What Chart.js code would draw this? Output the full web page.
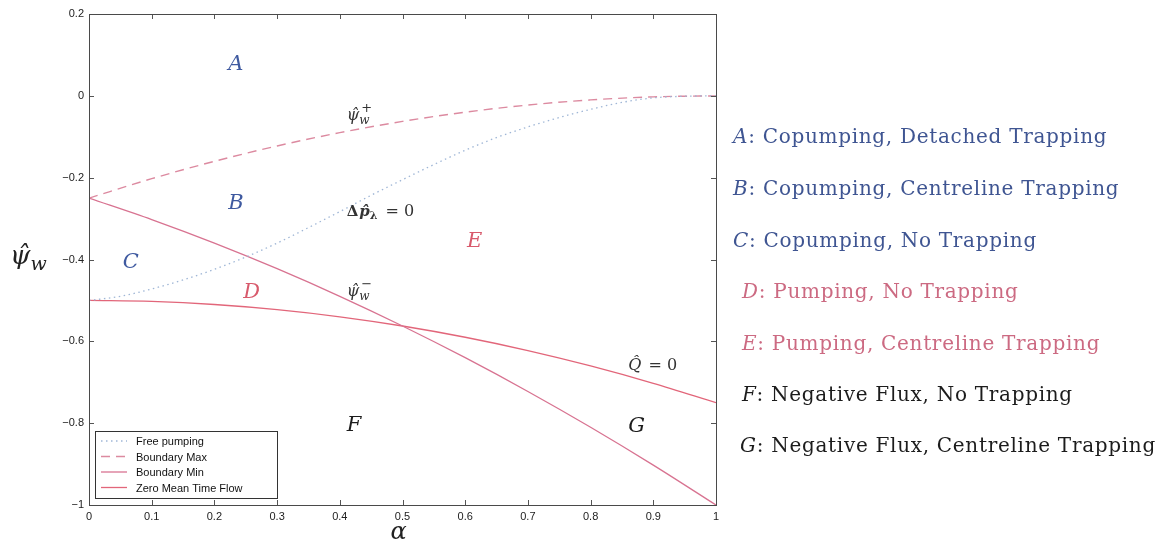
<!DOCTYPE html>
<html>
<head>
<meta charset="utf-8">
<title>Trapping regions</title>
<script src="https://cdn.jsdelivr.net/npm/chart.js@4.4.1/dist/chart.umd.min.js"></script>
<style>
  html, body { margin: 0; padding: 0; background: #fff; }
  #wrap { position: relative; width: 1162px; height: 542px; overflow: hidden; }
  #regiones { position: absolute; left: 0; top: 0; }
  .reg {
    position: absolute;
    font-family: "DejaVu Serif", serif;
    font-size: 20px;
    letter-spacing: 0.7px;
    white-space: nowrap;
    line-height: 1;
  }
  .reg i { font-style: italic; }
  .azul { color: #3f5592; }
  .rosa { color: #cc6a82; }
  .negro { color: #1c1c1c; }
</style>
</head>
<body>
<div id="wrap">
  <canvas id="grafico" width="1162" height="542"></canvas>
  <div id="regiones"></div>
</div>
<script>
// valores de alpha
const alphaGrueso = [0, 0.1, 0.2, 0.3, 0.4, 0.5, 0.6, 0.7, 0.8, 0.9, 1];
const alphaFino = [0, 0.05, 0.1, 0.15, 0.2, 0.25, 0.3, 0.35, 0.4, 0.45, 0.5,
                   0.55, 0.6, 0.65, 0.7, 0.75, 0.8, 0.85, 0.9, 0.95, 1];

// curvas de frontera
const bombeoLibre = [-0.5, -0.49, -0.472, -0.45, -0.424, -0.394, -0.36, -0.322, -0.283, -0.243, -0.205,
                     -0.168, -0.133, -0.102, -0.076, -0.053, -0.033, -0.016, -0.005, -0.001, 0];
const fronteraMax = [-0.25, -0.2025, -0.16, -0.1225, -0.09, -0.0625, -0.04, -0.0225, -0.01, -0.0025, 0];
const fronteraMin = [-0.25, -0.3025, -0.36, -0.4225, -0.49, -0.5625, -0.64, -0.7225, -0.81, -0.9025, -1];
const flujoCero = [-0.5, -0.5025, -0.51, -0.5225, -0.54, -0.5625, -0.59, -0.6225, -0.66, -0.7025, -0.75];

// ejes
const ticksX = [0, 0.1, 0.2, 0.3, 0.4, 0.5, 0.6, 0.7, 0.8, 0.9, 1];
const ticksY = [0.2, 0, -0.2, -0.4, -0.6, -0.8, -1];

const nombresSeries = ['Free pumping', 'Boundary Max', 'Boundary Min', 'Zero Mean Time Flow'];

// descripcion de cada region
const letrasRegion = ['A', 'B', 'C', 'D', 'E', 'F', 'G'];
const textosRegion = [
  'Copumping, Detached Trapping',
  'Copumping, Centreline Trapping',
  'Copumping, No Trapping',
  'Pumping, No Trapping',
  'Pumping, Centreline Trapping',
  'Negative Flux, No Trapping',
  'Negative Flux, Centreline Trapping'
];

const AZUL = '#3f5aa0';
const ROJO = '#d85a6c';
const NEGRO = '#1c1c1c';
const SERIF = '"DejaVu Serif", serif';

function puntos(xs, ys) {
  return xs.map((x, i) => ({ x: x, y: ys[i] }));
}

// etiquetas dentro del area de trazado (coordenadas de datos, linea base izquierda)
const etiquetasPlano = [
  { partes: [{ t: 'A', f: 'italic 21px ' + SERIF }], x: 0.222, y: 0.063, color: AZUL },
  { partes: [{ t: 'B', f: 'italic 21px ' + SERIF }], x: 0.222, y: -0.277, color: AZUL },
  { partes: [{ t: 'C', f: 'italic 21px ' + SERIF }], x: 0.054, y: -0.421, color: AZUL },
  { partes: [{ t: 'D', f: 'italic 21px ' + SERIF }], x: 0.246, y: -0.494, color: ROJO },
  { partes: [{ t: 'E', f: 'italic 21px ' + SERIF }], x: 0.603, y: -0.370, color: ROJO },
  { partes: [{ t: 'F', f: 'italic 21px ' + SERIF }], x: 0.411, y: -0.820, color: NEGRO },
  { partes: [{ t: 'G', f: 'italic 21px ' + SERIF }], x: 0.860, y: -0.822, color: NEGRO },
  { partes: [{ t: 'ψ\u0302', f: 'italic 16px ' + SERIF },
             { t: '+', f: '13px ' + SERIF, dy: -8, dx: 2 },
             { t: 'w', f: 'italic 12px ' + SERIF, dy: 4, atras: true }],
    x: 0.411, y: -0.059, color: '#333' },
  { partes: [{ t: 'Δ', f: 'bold 15px ' + SERIF },
             { t: 'p\u0302', f: 'bold italic 15px ' + SERIF, dx: 1 },
             { t: 'λ', f: 'bold 11px ' + SERIF, dy: 3 },
             { t: ' = 0', f: '16px ' + SERIF, dx: 3 }],
    x: 0.411, y: -0.294, color: '#333' },
  { partes: [{ t: 'ψ\u0302', f: 'italic 16px ' + SERIF },
             { t: '−', f: '13px ' + SERIF, dy: -8, dx: 2 },
             { t: 'w', f: 'italic 12px ' + SERIF, dy: 4, atras: true }],
    x: 0.411, y: -0.489, color: '#333' },
  { partes: [{ t: 'Q\u0302', f: 'italic 16px ' + SERIF },
             { t: ' = 0', f: '16px ' + SERIF, dx: 2 }],
    x: 0.860, y: -0.670, color: '#333' }
];

// dibuja una secuencia de trozos de texto con desplazamientos (sub/superindices)
function dibujarPartes(ctx, partes, x0, y0, color) {
  let x = x0;
  let anchoPrevio = 0;
  ctx.fillStyle = color;
  ctx.textBaseline = 'alphabetic';
  ctx.textAlign = 'left';
  partes.forEach(p => {
    ctx.font = p.f;
    const w = ctx.measureText(p.t).width;
    let xp = x + (p.dx || 0);
    if (p.atras) xp = x - anchoPrevio;
    ctx.fillText(p.t, xp, y0 + (p.dy || 0));
    if (!p.atras) {
      anchoPrevio = w + (p.dx || 0);
      x = xp + w;
    }
  });
}

const pluginDecoracion = {
  id: 'decoracion',
  afterDraw(chart) {
    const ctx = chart.ctx;
    const area = chart.chartArea;
    const sx = chart.scales.x;
    const sy = chart.scales.y;
    ctx.save();

    // marcas de los ejes hacia dentro en los cuatro lados
    ctx.strokeStyle = '#555';
    ctx.lineWidth = 1;
    ctx.beginPath();
    ticksX.forEach(v => {
      const px = Math.round(sx.getPixelForValue(v)) + 0.5;
      ctx.moveTo(px, area.bottom); ctx.lineTo(px, area.bottom - 5);
      ctx.moveTo(px, area.top); ctx.lineTo(px, area.top + 5);
    });
    ticksY.forEach(v => {
      const py = Math.round(sy.getPixelForValue(v)) + 0.5;
      ctx.moveTo(area.left, py); ctx.lineTo(area.left + 5, py);
      ctx.moveTo(area.right, py); ctx.lineTo(area.right - 5, py);
    });
    ctx.stroke();

    // caja exterior
    ctx.strokeStyle = '#4a4a4a';
    ctx.strokeRect(Math.round(area.left) + 0.5, Math.round(area.top) + 0.5,
                   Math.round(area.right - area.left), Math.round(area.bottom - area.top));

    // etiquetas de region y de curva
    etiquetasPlano.forEach(e => {
      dibujarPartes(ctx, e.partes, sx.getPixelForValue(e.x), sy.getPixelForValue(e.y), e.color);
    });

    // titulos de los ejes
    dibujarPartes(ctx, [{ t: 'α', f: 'italic 24px ' + SERIF }],
                  sx.getPixelForValue(0.5) - 12, area.bottom + 34, '#222');
    dibujarPartes(ctx, [{ t: 'ψ\u0302', f: 'italic 26px ' + SERIF },
                        { t: 'w', f: 'italic 19px ' + SERIF, dy: 6 }],
                  10, sy.getPixelForValue(-0.41), '#222');

    // leyenda en la esquina inferior izquierda
    const lx = area.left + 6, ly = area.bottom - 74, lw = 182, lh = 67;
    ctx.fillStyle = '#fff';
    ctx.fillRect(lx, ly, lw, lh);
    ctx.strokeStyle = '#333';
    ctx.lineWidth = 1;
    ctx.strokeRect(lx + 0.5, ly + 0.5, lw, lh);
    chart.data.datasets.forEach((ds, i) => {
      const yy = ly + 10 + i * 15.5;
      ctx.strokeStyle = ds.borderColor;
      ctx.lineWidth = ds.borderWidth;
      ctx.setLineDash(ds.borderDash || []);
      ctx.beginPath();
      ctx.moveTo(lx + 6, yy);
      ctx.lineTo(lx + 32, yy);
      ctx.stroke();
      ctx.setLineDash([]);
      ctx.fillStyle = '#111';
      ctx.font = '11px "Liberation Sans", Arial, sans-serif';
      ctx.textBaseline = 'middle';
      ctx.fillText(ds.label, lx + 41, yy + 1);
    });
    ctx.restore();
  }
};

function formatoTick(v) {
  const r = Math.round(v * 10) / 10;
  if (r === 0) return '0';
  return (r < 0 ? '\u2212' : '') + String(Math.abs(r));
}

const ctx = document.getElementById('grafico').getContext('2d');
new Chart(ctx, {
  type: 'line',
  data: {
    datasets: [
      {
        label: nombresSeries[0],
        data: puntos(alphaFino, bombeoLibre),
        borderColor: '#9fb6d6',
        borderWidth: 1.3,
        borderDash: [1.5, 3.5],
        pointRadius: 0,
        cubicInterpolationMode: 'monotone'
      },
      {
        label: nombresSeries[1],
        data: puntos(alphaGrueso, fronteraMax),
        borderColor: '#dc8aa0',
        borderWidth: 1.4,
        borderDash: [9, 6],
        pointRadius: 0,
        cubicInterpolationMode: 'monotone'
      },
      {
        label: nombresSeries[2],
        data: puntos(alphaGrueso, fronteraMin),
        borderColor: '#d87391',
        borderWidth: 1.3,
        pointRadius: 0,
        cubicInterpolationMode: 'monotone'
      },
      {
        label: nombresSeries[3],
        data: puntos(alphaGrueso, flujoCero),
        borderColor: '#e2667a',
        borderWidth: 1.3,
        pointRadius: 0,
        cubicInterpolationMode: 'monotone'
      }
    ]
  },
  options: {
    responsive: false,
    animation: false,
    layout: { padding: { left: 39, right: 446, top: 14, bottom: 0 } },
    plugins: {
      legend: { display: false },
      tooltip: { enabled: false }
    },
    scales: {
      x: {
        type: 'linear',
        min: 0,
        max: 1,
        afterFit(scale) { scale.height = 37; },
        afterBuildTicks(scale) { scale.ticks = ticksX.map(v => ({ value: v })); },
        grid: { display: false, drawTicks: false },
        border: { display: false },
        ticks: {
          padding: 5,
          color: '#222',
          font: { family: '"Liberation Sans", Arial, sans-serif', size: 11 },
          callback: v => formatoTick(v),
          maxRotation: 0
        }
      },
      y: {
        type: 'linear',
        min: -1,
        max: 0.2,
        afterFit(scale) { scale.width = 50; },
        afterBuildTicks(scale) { scale.ticks = ticksY.map(v => ({ value: v })); },
        grid: { display: false, drawTicks: false },
        border: { display: false },
        ticks: {
          padding: 5,
          color: '#222',
          font: { family: '"Liberation Sans", Arial, sans-serif', size: 11 },
          callback: v => formatoTick(v)
        }
      }
    }
  },
  plugins: [pluginDecoracion]
});

// lista de regiones a la derecha
const posicionesLista = [
  { left: 733, base: 143, clase: 'azul' },
  { left: 733, base: 195, clase: 'azul' },
  { left: 733, base: 247, clase: 'azul' },
  { left: 742, base: 298, clase: 'rosa' },
  { left: 742, base: 350, clase: 'rosa' },
  { left: 742, base: 401, clase: 'negro' },
  { left: 740, base: 452, clase: 'negro' }
];
const contenedor = document.getElementById('regiones');
letrasRegion.forEach((letra, i) => {
  const p = posicionesLista[i];
  const div = document.createElement('div');
  div.className = 'reg ' + p.clase;
  div.style.left = p.left + 'px';
  div.style.top = (p.base - 17) + 'px';
  div.innerHTML = '<i>' + letra + '</i>: ' + textosRegion[i];
  contenedor.appendChild(div);
});
</script>
</body>
</html>
